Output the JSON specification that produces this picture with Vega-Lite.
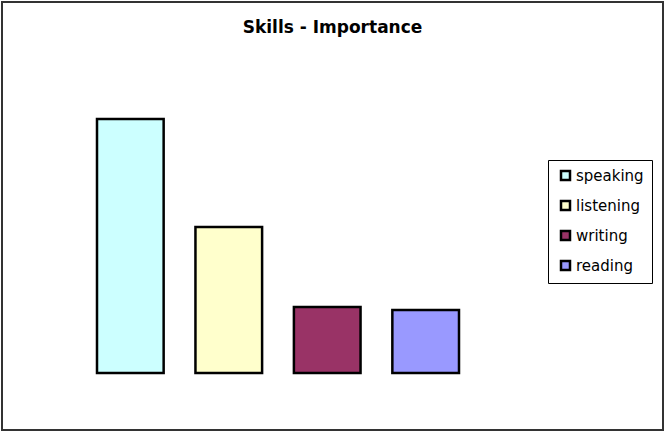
{
  "$schema": "https://vega.github.io/schema/vega-lite/v6.json",
  "autosize": "none",
  "padding": {"left": 2, "top": 2, "right": 2, "bottom": 2},
  "width": 661,
  "height": 428,
  "background": "white",
  "title": {"text": "Skills - Importance", "font": "DejaVu Sans", "fontSize": 17, "fontWeight": "bold", "color": "black", "anchor": "middle", "offset": -35},
  "data": {"values": [
    {"skill": "speaking", "importance": 254},
    {"skill": "listening", "importance": 146},
    {"skill": "writing", "importance": 66},
    {"skill": "reading", "importance": 63}
  ]},
  "mark": {"type": "bar", "stroke": "black", "strokeWidth": 2.5},
  "encoding": {
    "x": {"field": "skill", "type": "nominal", "sort": ["speaking", "listening", "writing", "reading"], "axis": null,
      "scale": {"paddingInner": 0.323, "paddingOuter": 0, "range": [95, 457]}},
    "y": {"field": "importance", "type": "quantitative", "axis": null, "scale": {"domain": [-57, 371], "nice": false, "zero": false}},
    "color": {"field": "skill", "type": "nominal", "sort": ["speaking", "listening", "writing", "reading"],
      "scale": {"domain": ["speaking", "listening", "writing", "reading"], "range": ["#CCFFFF", "#FFFFCC", "#993366", "#9999FF"]},
      "legend": {"title": null, "orient": "none", "legendX": 546, "legendY": 158, "strokeColor": "black", "padding": 8,
        "symbolType": "square", "symbolSize": 81, "symbolStrokeColor": "black", "symbolStrokeWidth": 2.5, "symbolOpacity": 1, "symbolOffset": 2,
        "labelFont": "DejaVu Sans", "labelFontSize": 15, "labelColor": "black", "rowPadding": 11, "labelOffset": 3, "fillColor": "white"}
    }
  },
  "config": {"view": {"stroke": "#333333", "strokeWidth": 2}}
}
